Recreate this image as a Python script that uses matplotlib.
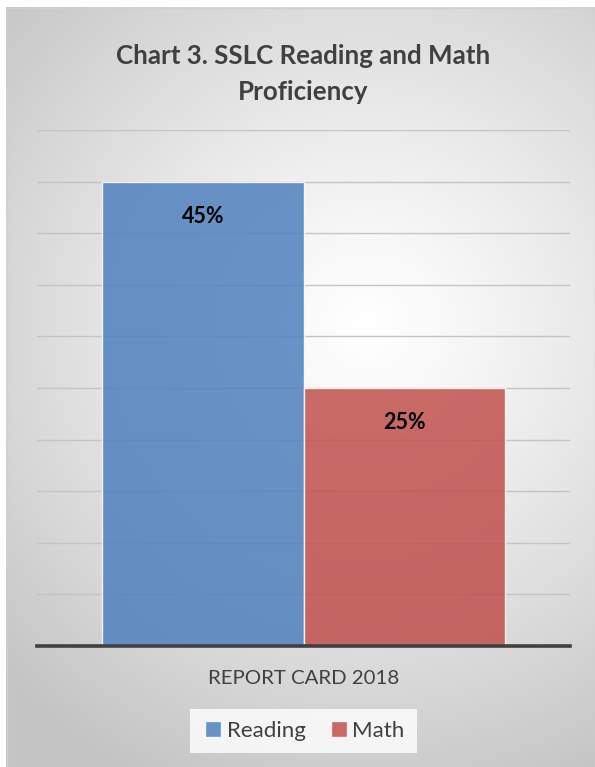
import numpy as np
import matplotlib
matplotlib.use("Agg")
import matplotlib.pyplot as plt
from matplotlib.patches import Rectangle
from matplotlib.lines import Line2D

# ---- data ----
title = "Chart 3. SSLC Reading and Math\nProficiency"
category = ["REPORT CARD 2018"]
series_names = ["Reading", "Math"]
series_values = [45, 25]
series_labels = ["45%", "25%"]
series_colors = ["#4F81BD", "#C0504D"]
y_max = 50
y_step = 5

W, H = 595, 767
fig = plt.figure(figsize=(W / 100, H / 100), dpi=100)
fig.patch.set_facecolor("white")

FONT = ["Lato", "DejaVu Sans"]
TXT = "#404040"

# background radial gradient for chart area
x0, y0 = 6, 7  # pixel offsets (left, top)
bg = fig.add_axes([x0 / W, 0, (W - x0) / W, (H - y0) / H], zorder=-10)
bw, bh = W - x0, H - y0
yy, xx = np.mgrid[0:bh, 0:bw]
cx, cy = 360, 320
r = np.sqrt((xx - cx) ** 2 + (yy - cy) ** 2)
t = np.clip(r / 500, 0, 1) ** 1.2
c_in, c_out = 1.0, 0.77
img = c_in + (c_out - c_in) * t
bg.imshow(np.dstack([img] * 3), aspect="auto", extent=[0, bw, bh, 0])
bg.set_xlim(0, bw)
bg.set_ylim(bh, 0)
bg.axis("off")
bg.add_patch(Rectangle((0.5, 0.5), bw - 1, bh + 5, fill=False, edgecolor="#D0D0D0", lw=1))

# plot axes
L, R, T, B = 37, 570, 130, 646
ax = fig.add_axes([L / W, (H - B) / H, (R - L) / W, (B - T) / H])
ax.set_facecolor("none")
ax.set_xlim(-0.5, 0.5)
ax.set_ylim(0, y_max)

for gy in np.arange(y_step, y_max + 0.1, y_step):
    ax.axhline(gy, color="#C4C4C4", lw=1.0, zorder=1)

bar_w = 0.378
xs = [-bar_w / 2, bar_w / 2]
for x, v, c, lab in zip(xs, series_values, series_colors, series_labels):
    ax.bar(x, v, width=bar_w, color=c, alpha=0.85, edgecolor=(1, 1, 1, 0.6), lw=1.0, zorder=2)
    ax.annotate(lab, xy=(x, v), xytext=(0, -25), textcoords="offset points",
                ha="center", va="center", fontsize=15.5, fontweight="bold",
                color="black", family=FONT, zorder=5)

ax.axhline(0, color="#404040", lw=2.6, zorder=4, clip_on=False)
for s in ax.spines.values():
    s.set_visible(False)
ax.set_yticks([])
ax.set_xticks([0])
ax.set_xticklabels(category, fontsize=14.7, color=TXT, family=FONT)
ax.tick_params(axis="x", length=0, pad=17)

fig.text((L + R) / 2 / W, 1 - 74 / H, title, ha="center", va="center",
         fontsize=18.6, fontweight="bold", color=TXT, family=FONT, linespacing=1.65)

handles = [Line2D([0], [0], marker="s", linestyle="none", markersize=11,
                  markerfacecolor=c, markeredgecolor=(1, 1, 1, 0.6), alpha=0.85)
           for c in series_colors]
leg = fig.legend(handles, series_names, loc="center", bbox_to_anchor=(303.5 / W, 1 - 731 / H),
                 ncol=2, frameon=True, prop={"family": FONT, "size": 16},
                 handletextpad=0.1, columnspacing=1.0, handlelength=1.0,
                 borderpad=0.55, labelcolor=TXT)
leg.get_frame().set_facecolor((1, 1, 1, 0.2))
leg.get_frame().set_edgecolor("none")
leg.get_frame().set_boxstyle("square", pad=0)

fig.savefig("out.png", dpi=100, facecolor="white")
